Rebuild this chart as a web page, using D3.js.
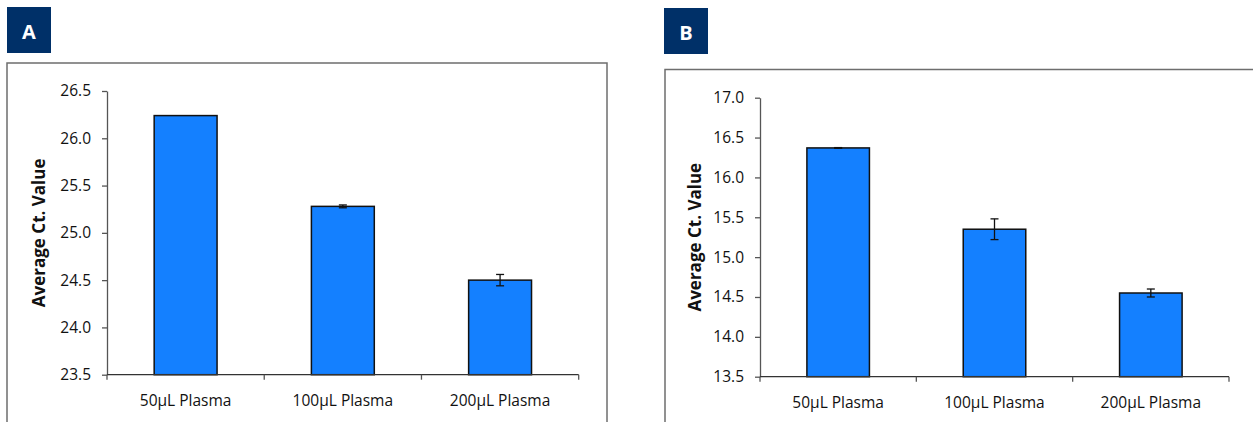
<!DOCTYPE html>
<html>
<head>
<meta charset="utf-8">
<script src="https://cdn.jsdelivr.net/npm/d3@7"></script>
<style>
  body { margin: 0; background: #fff; }
  text { font-family: "Open Sans", "Noto Sans", sans-serif; }
</style>
</head>
<body>
<svg id="chart" width="1253" height="422"></svg>
<script>
// data
var categories = ["50\u00b5L Plasma", "100\u00b5L Plasma", "200\u00b5L Plasma"];
var valuesA = [26.24, 25.28, 24.50];
var errorsA = [0, 0.015, 0.06];
var valuesB = [16.37, 15.35, 14.55];
var errorsB = [0.004, 0.13, 0.05];
var ticksA = [23.5, 24.0, 24.5, 25.0, 25.5, 26.0, 26.5];
var ticksB = [13.5, 14.0, 14.5, 15.0, 15.5, 16.0, 16.5, 17.0];
var yTitle = "Average Ct. Value";

var svg = d3.select("#chart");

var panels = [
    {label: "A", values: valuesA, errors: errorsA, ticks: ticksA,
     badge: [7, 7], frame: [7, 63, 607, 430],
     x0: 107, x1: 578.7, y0: 374.7, y1: 91, titleX: 38},
    {label: "B", values: valuesB, errors: errorsB, ticks: ticksB,
     badge: [664, 8], frame: [665, 69.5, 1262, 430],
     x0: 760, x1: 1229, y0: 376.7, y1: 97.7, titleX: 694}
];

panels.forEach(function(p) {
    var g = svg.append("g");

    // badge
    g.append("rect")
        .attr("x", p.badge[0]).attr("y", p.badge[1])
        .attr("width", 44).attr("height", 46)
        .attr("fill", "#003068");
    g.append("text")
        .attr("x", p.badge[0] + 22).attr("y", p.badge[1] + 24)
        .attr("text-anchor", "middle")
        .attr("dominant-baseline", "central")
        .attr("fill", "#fff")
        .style("font-size", "20px")
        .style("font-weight", "bold")
        .text(p.label);

    // frame
    g.append("rect")
        .attr("x", p.frame[0]).attr("y", p.frame[1])
        .attr("width", p.frame[2] - p.frame[0])
        .attr("height", p.frame[3] - p.frame[1])
        .attr("fill", "none")
        .attr("stroke", "#6e6e6e")
        .attr("stroke-width", 1.5);

    var x = d3.scaleBand()
        .domain(categories)
        .range([p.x0, p.x1])
        .paddingInner(0.6)
        .paddingOuter(0.3);
    var y = d3.scaleLinear()
        .domain([p.ticks[0], p.ticks[p.ticks.length - 1]])
        .range([p.y0, p.y1]);

    var data = categories.map(function(c, i) {
        return {cat: c, v: p.values[i], e: p.errors[i]};
    });

    // bars
    g.selectAll("rect.bar")
        .data(data)
        .enter()
        .append("rect")
        .attr("class", "bar")
        .attr("x", d => x(d.cat))
        .attr("y", d => y(d.v))
        .attr("width", x.bandwidth())
        .attr("height", d => y(p.ticks[0]) - y(d.v))
        .attr("fill", "#1480ff")
        .attr("stroke", "#111")
        .attr("stroke-width", 1.5);

    // error bars (skip the ones with no spread)
    var eb = g.selectAll("g.err")
        .data(data.filter(d => d.e > 0))
        .enter()
        .append("g")
        .attr("class", "err")
        .attr("stroke", "#111")
        .attr("stroke-width", 1.3);
    eb.append("line")
        .attr("x1", d => x(d.cat) + x.bandwidth() / 2)
        .attr("x2", d => x(d.cat) + x.bandwidth() / 2)
        .attr("y1", d => y(d.v + d.e))
        .attr("y2", d => y(d.v - d.e));
    [1, -1].forEach(function(s) {
        eb.append("line")
            .attr("x1", d => x(d.cat) + x.bandwidth() / 2 - 4)
            .attr("x2", d => x(d.cat) + x.bandwidth() / 2 + 4)
            .attr("y1", d => y(d.v + s * d.e))
            .attr("y2", d => y(d.v + s * d.e));
    });

    // y axis
    var yAxis = d3.axisLeft(y)
        .tickValues(p.ticks)
        .tickFormat(d3.format(".1f"))
        .tickSize(5)
        .tickSizeOuter(0)
        .tickPadding(11);
    var ya = g.append("g")
        .attr("transform", "translate(" + p.x0 + ",0)")
        .call(yAxis);
    ya.select(".domain").attr("stroke", "#555").attr("stroke-width", 1.3);
    ya.selectAll(".tick line").attr("stroke", "#555").attr("stroke-width", 1.3);
    ya.selectAll(".tick text")
        .attr("fill", "#111")
        .style("font-size", "15.5px")
        .style("font-family", "'Open Sans', sans-serif");

    // x axis line and category separators
    var step = x.step();
    var seps = categories.map(c => x(c) - x.paddingOuter() * step).concat([p.x1]);
    g.append("line")
        .attr("x1", p.x0).attr("x2", p.x1)
        .attr("y1", p.y0).attr("y2", p.y0)
        .attr("stroke", "#333").attr("stroke-width", 1.3);
    g.selectAll("line.sep")
        .data(seps)
        .enter()
        .append("line")
        .attr("class", "sep")
        .attr("x1", d => d).attr("x2", d => d)
        .attr("y1", p.y0).attr("y2", p.y0 + 5)
        .attr("stroke", "#555").attr("stroke-width", 1.3);
    g.selectAll("text.cat")
        .data(categories)
        .enter()
        .append("text")
        .attr("class", "cat")
        .attr("x", d => x(d) + x.bandwidth() / 2)
        .attr("y", p.y0 + 31)
        .attr("text-anchor", "middle")
        .attr("fill", "#111")
        .style("font-size", "15.5px")
        .text(d => d);

    // y title
    g.append("text")
        .attr("transform", "translate(" + p.titleX + "," + ((p.y0 + p.y1) / 2) + ") rotate(-90)")
        .attr("text-anchor", "middle")
        .attr("dominant-baseline", "central")
        .attr("fill", "#111")
        .style("font-size", "17px")
        .style("font-weight", "bold")
        .text(yTitle);
});
</script>
</body>
</html>
